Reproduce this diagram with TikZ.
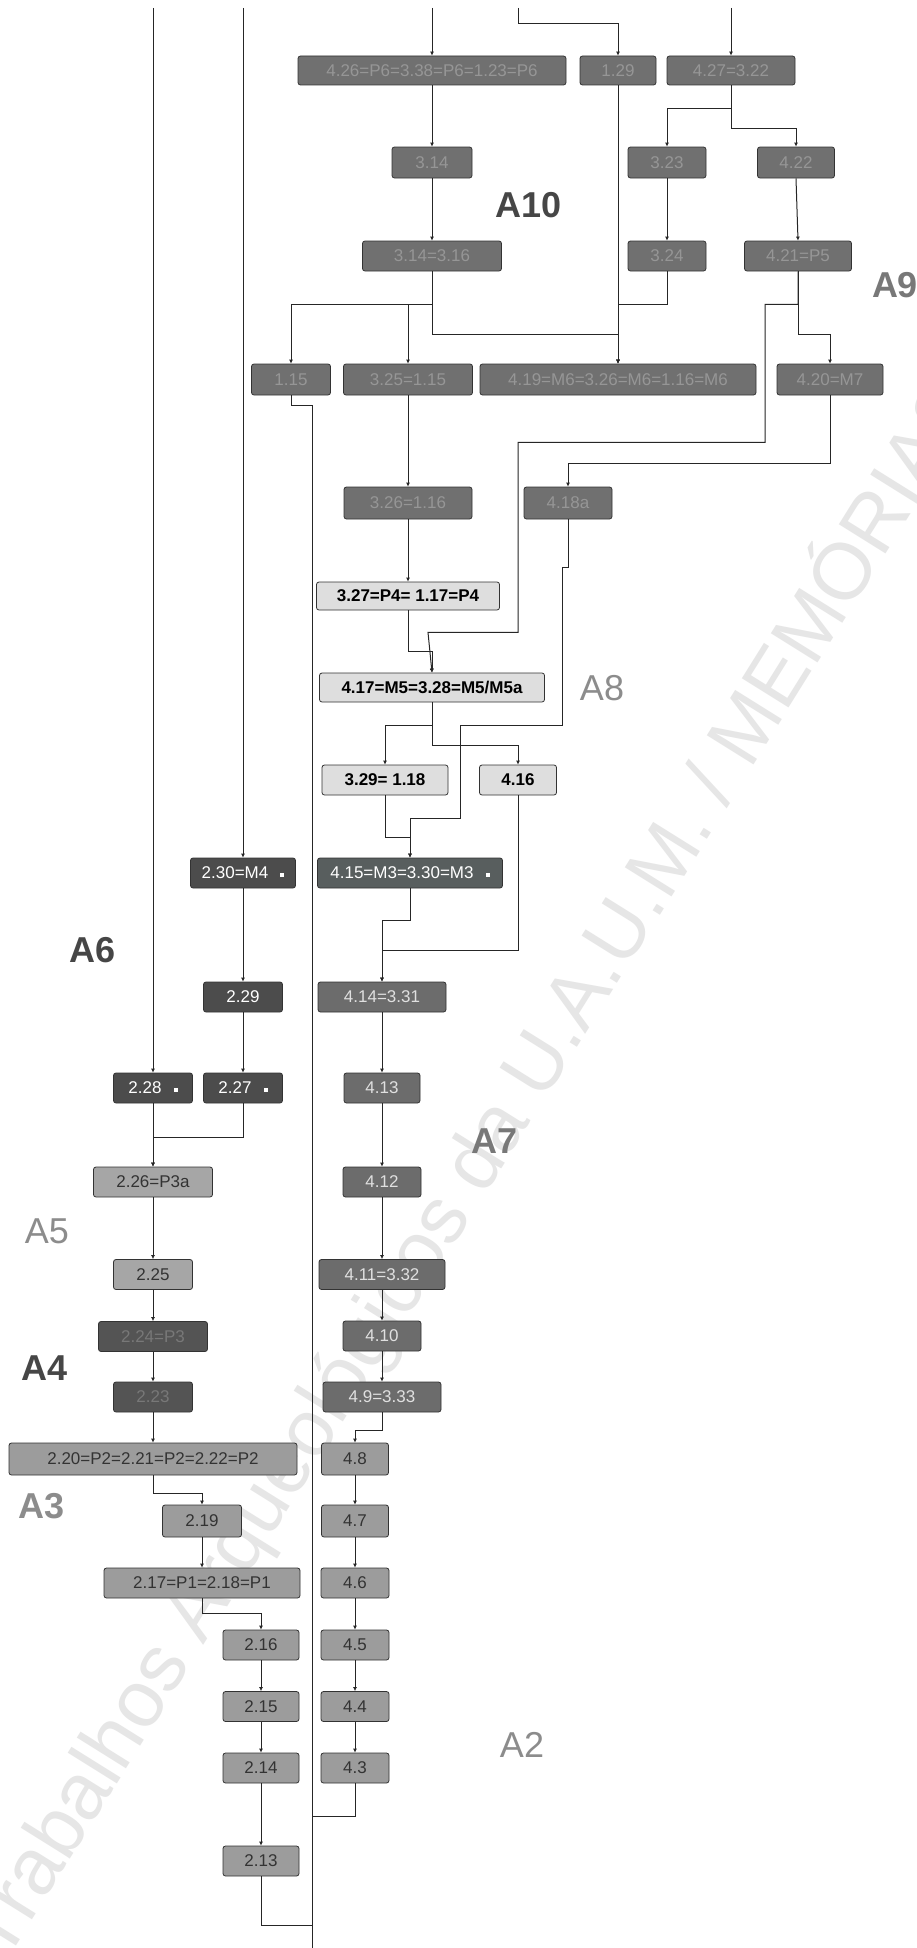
\documentclass[tikz,border=0pt]{standalone}
\usepackage{fontspec}
\setmainfont{Liberation Sans}
\usetikzlibrary{arrows.meta,calc}
\definecolor{topfill}{RGB}{112,112,112}
\definecolor{toptext}{RGB}{150,150,150}
\definecolor{ltfill}{RGB}{222,222,222}
\definecolor{bkfill}{RGB}{76,76,76}
\definecolor{h2fill}{RGB}{88,94,94}
\definecolor{mdfill}{RGB}{108,108,108}
\definecolor{lgfill}{RGB}{156,156,156}
\definecolor{plfill}{RGB}{166,166,166}
\definecolor{ddfill}{RGB}{84,84,84}
\definecolor{ddtext}{RGB}{120,120,120}
\definecolor{lblA}{RGB}{70,70,70}
\definecolor{lblB}{RGB}{120,120,120}
\definecolor{lblC}{RGB}{140,140,140}
\definecolor{wmark}{RGB}{230,230,230}
\newcommand{\mk}{\hspace{12pt}\raisebox{2pt}{\rule{4pt}{4pt}}}
\begin{document}
\begin{tikzpicture}[x=1pt,y=-1pt,
  box/.style={rounded corners=2.5pt, draw=black!80, line width=0.8pt, minimum height=30pt, inner sep=0pt, font=\fontsize{17}{17}\selectfont},
  dk/.style={box, fill=topfill, text=toptext},
  lt/.style={box, fill=ltfill, text=black, font=\fontsize{17}{17}\selectfont\bfseries},
  bk/.style={box, fill=bkfill, text=white},
  hh/.style={box, fill=h2fill, text=white},
  md/.style={box, fill=mdfill, text=white!88!black},
  lg/.style={box, fill=lgfill, text=black!80},
  pl/.style={box, fill=plfill, text=black!80},
  dd/.style={box, fill=ddfill, text=ddtext},
  conn/.style={draw=black!85, line width=1pt},
  arr/.style={conn, -{Latex[length=4pt,width=4pt]}},
  lbl/.style={font=\fontsize{36}{36}\selectfont, inner sep=0pt},
  lblb/.style={font=\fontsize{36}{36}\selectfont\bfseries, inner sep=0pt}
]
\useasboundingbox (0,0) rectangle (917,1948);
\fill[white] (0,0) rectangle (917,1948);
% watermark
\node[rotate=58, text=wmark, font=\fontsize{80}{80}\selectfont, inner sep=0pt] (wm) at (471,1168) {Trabalhos Arqueológicos da U.A.U.M. / MEMÓRIAS};

% coordinates for free ends
\coordinate (t1) at (153,8);
\coordinate (t2) at (243,8);
\coordinate (t3) at (432,8);
\coordinate (t4) at (518,8);
\coordinate (t5) at (731,8);
\coordinate (bot) at (312,1948);

% top section
\node[dk, minimum width=268pt, minimum height=29pt] (b1) at (432,70.5) {4.26=P6=3.38=P6=1.23=P6};
\node[dk, minimum width=76pt, minimum height=29pt] (b2) at (618,70.5) {1.29};
\node[dk, minimum width=128pt, minimum height=29pt] (b3) at (731,70.5) {4.27=3.22};
\node[dk, minimum width=80pt, minimum height=31pt] (c1) at (432,162.5) {3.14};
\node[dk, minimum width=78pt, minimum height=31pt] (c2) at (667,162.5) {3.23};
\node[dk, minimum width=77pt, minimum height=31pt] (c3) at (796,162.5) {4.22};
\node[dk, minimum width=139pt] (d1) at (432,256) {3.14=3.16};
\node[dk, minimum width=78pt] (d2) at (667,256) {3.24};
\node[dk, minimum width=107pt] (d3) at (798,256) {4.21=P5};
\node[dk, minimum width=79pt, minimum height=31pt] (e1) at (291,379.5) {1.15};
\node[dk, minimum width=129pt, minimum height=31pt] (e2) at (408,379.5) {3.25=1.15};
\node[dk, minimum width=276pt, minimum height=31pt] (e3) at (618,379.5) {4.19=M6=3.26=M6=1.16=M6};
\node[dk, minimum width=106pt, minimum height=31pt] (e4) at (830,379.5) {4.20=M7};
\node[dk, minimum width=128pt, minimum height=32pt] (f1) at (408,503) {3.26=1.16};
\node[dk, minimum width=88pt, minimum height=32pt] (f2) at (568,503) {4.18a};

% light boxes
\node[lt, minimum width=183pt, minimum height=28pt] (g1) at (408,596) {3.27=P4= 1.17=P4};
\node[lt, minimum width=225pt, minimum height=29pt] (g2) at (432,687.5) {4.17=M5=3.28=M5/M5a};
\node[lt, minimum width=126pt] (g3) at (385,780) {3.29= 1.18};
\node[lt, minimum width=77pt] (g4) at (518,780) {4.16};

% middle
\node[bk, minimum width=105pt] (h1) at (243,873) {2.30=M4\mk};
\node[hh, minimum width=185pt] (h2) at (410,873) {4.15=M3=3.30=M3\mk};
\node[bk, minimum width=79pt] (h3) at (243,997) {2.29};
\node[md, minimum width=128pt] (h4) at (382,997) {4.14=3.31};
\node[bk, minimum width=79pt] (n228) at (153,1088) {2.28\mk};
\node[bk, minimum width=79pt] (n227) at (243,1088) {2.27\mk};
\node[md, minimum width=76pt] (n413) at (382,1088) {4.13};
\node[pl, minimum width=119pt] (n226) at (153,1182) {2.26=P3a};
\node[md, minimum width=78pt] (n412) at (382,1182) {4.12};
\node[pl, minimum width=79pt] (n225) at (153,1274.5) {2.25};
\node[md, minimum width=126pt] (n411) at (382,1274.5) {4.11=3.32};
\node[dd, minimum width=109pt] (n224) at (153,1336.5) {2.24=P3};
\node[md, minimum width=78pt] (n410) at (382,1336) {4.10};
\node[dd, minimum width=79pt] (n223) at (153,1397) {2.23};
\node[md, minimum width=118pt] (n49) at (382,1397) {4.9=3.33};
\node[lg, minimum width=288pt, minimum height=32pt] (n220) at (153,1459) {2.20=P2=2.21=P2=2.22=P2};
\node[lg, minimum width=67pt, minimum height=32pt] (n48) at (355,1459) {4.8};
\node[lg, minimum width=79pt, minimum height=32pt] (n219) at (202,1521) {2.19};
\node[lg, minimum width=67pt, minimum height=32pt] (n47) at (355,1521) {4.7};
\node[lg, minimum width=196pt] (n217) at (202,1583) {2.17=P1=2.18=P1};
\node[lg, minimum width=68pt] (n46) at (355,1583) {4.6};
\node[lg, minimum width=76pt] (n216) at (261,1645) {2.16};
\node[lg, minimum width=68pt] (n45) at (355,1645) {4.5};
\node[lg, minimum width=76pt] (n215) at (261,1706.5) {2.15};
\node[lg, minimum width=68pt] (n44) at (355,1706.5) {4.4};
\node[lg, minimum width=76pt] (n214) at (261,1768) {2.14};
\node[lg, minimum width=68pt] (n43) at (355,1768) {4.3};
\node[lg, minimum width=76pt] (n213) at (261,1861) {2.13};

% area labels
\node[lblb, text=lblA] (a10) at (529,205) {A10};
\node[lblb, text=lblB] (a9) at (895,285) {A9};
\node[lbl, text=lblC] (a8) at (602,688) {A8};
\node[lblb, text=lblB] (a7) at (495,1141) {A7};
\node[lblb, text=lblA] (a6) at (93,950) {A6};
\node[lbl, text=lblC] (a5) at (47,1231) {A5};
\node[lblb, text=lblA] (a4) at (45,1368) {A4};
\node[lblb, text=lblC] (a3) at (42,1506) {A3};
\node[lbl, text=lblC] (a2) at (522,1745) {A2};

% connectors from top edge
\draw[arr] (t1) -- (n228.north);
\draw[arr] (t2) -- (h1.north);
\draw[arr] (t3) -- (b1.north);
\draw[arr] (t4) -- ++(0,16) -| (b2.north);
\draw[arr] (t5) -- (b3.north);

% top section
\draw[arr] (b1.south) -- (c1.north);
\draw[arr] (b2.south) -- (e3.north);
\draw[arr] (b3.south) -- ++(0,23) -| (c2.north);
\draw[arr] (b3.south) -- ++(0,43) -| (c3.north);
\draw[arr] (c1.south) -- (d1.north);
\draw[arr] (c2.south) -- (d2.north);
\draw[arr] (c3.south) -- (d3.north);
\draw[arr] (d1.south) -- ++(0,33) -| (e1.north);
\draw[arr] (d1.south) -- ++(0,33) -| (e2.north);
\draw[arr] (d1.south) -- ++(0,63) -| (e3.north);
\draw[arr] (d2.south) -- ++(0,33) -| (e3.north);
\draw[arr] (d3.south) -- ++(0,63) -| (e4.north);
\draw[arr] (d3.south) |- ++(-33,33) |- ++(-247,138) |- ++(-90,190) -- (g2.north);
\draw[arr] (e2.south) -- (f1.north);
\draw[arr] (e4.south) |- ++(-262,68) -- (f2.north);
\draw[arr] (f1.south) -- (g1.north);
\draw[arr] (g1.south) |- ($(g2.north)+(0,-21)$) -- (g2.north);
\draw[arr] (f2.south) |- ++(-6,48) |- ++(-102,158) |- ++(-50,93) -- (h2.north);
\draw[arr] (g2.south) -- ++(0,23) -| (g3.north);
\draw[arr] (g2.south) -- ++(0,43) -| (g4.north);
\draw[arr] (g3.south) |- ++(25,42) -- (h2.north);
\draw[arr] (g4.south) -- ++(0,155) -| (h4.north);
\draw[arr] (h2.south) -- ++(0,32) -| (h4.north);
% long line to bottom
\draw[conn] (e1.south) -- ++(0,10) -| (bot);

% left column
\draw[arr] (h1.south) -- (h3.north);
\draw[arr] (h3.south) -- (n227.north);
\draw[arr] (n228.south) -- (n226.north);
\draw[arr] (n227.south) -- ++(0,34) -| (n226.north);
\draw[arr] (n226.south) -- (n225.north);
\draw[arr] (n225.south) -- (n224.north);
\draw[arr] (n224.south) -- (n223.north);
\draw[arr] (n223.south) -- (n220.north);
\draw[arr] (n220.south) -- ++(0,18) -| (n219.north);
\draw[arr] (n219.south) -- (n217.north);
\draw[arr] (n217.south) -- ++(0,15) -| (n216.north);
\draw[arr] (n216.south) -- (n215.north);
\draw[arr] (n215.south) -- (n214.north);
\draw[arr] (n214.south) -- (n213.north);
\draw[conn] (n213.south) -- ++(0,49) -| (bot);

% right column
\draw[arr] (h4.south) -- (n413.north);
\draw[arr] (n413.south) -- (n412.north);
\draw[arr] (n412.south) -- (n411.north);
\draw[arr] (n411.south) -- (n410.north);
\draw[arr] (n410.south) -- (n49.north);
\draw[arr] (n49.south) -- ++(0,18) -| (n48.north);
\draw[arr] (n48.south) -- (n47.north);
\draw[arr] (n47.south) -- (n46.north);
\draw[arr] (n46.south) -- (n45.north);
\draw[arr] (n45.south) -- (n44.north);
\draw[arr] (n44.south) -- (n43.north);
\draw[conn] (n43.south) -- ++(0,33) -| (bot);
\end{tikzpicture}
\end{document}
